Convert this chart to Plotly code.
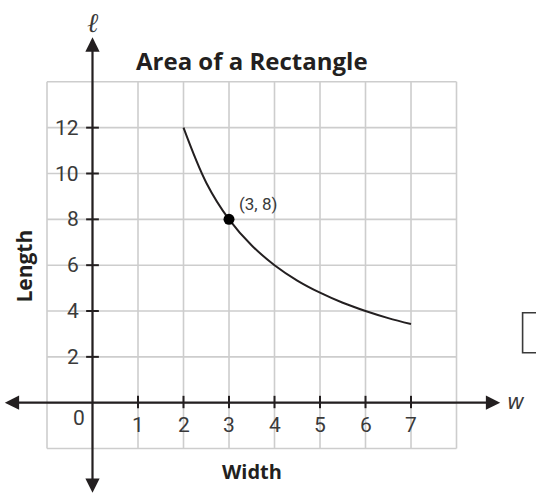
import plotly.graph_objects as go

# values
width_vals = [2, 2.5, 3, 3.5, 4, 4.5, 5, 5.5, 6, 6.5, 7]
length_vals = [12, 9.6, 8, 6.86, 6, 5.33, 4.8, 4.36, 4, 3.69, 3.43]
point_w = [3]
point_l = [8]
x_ticks = [1, 2, 3, 4, 5, 6, 7]
y_ticks = [2, 4, 6, 8, 10, 12]
grid_x = [-1, 0, 1, 2, 3, 4, 5, 6, 7, 8]
grid_y = [-2, 0, 2, 4, 6, 8, 10, 12, 14]

INK = '#231f20'
GRID = '#cdcdcd'
NUM_FONT = dict(family='Roboto', size=21, color='#3a3a3a')

fig = go.Figure()

shapes = []
# grid
for gx in grid_x:
    shapes.append(dict(type='line', xref='x', yref='y', x0=gx, x1=gx,
                       y0=grid_y[0], y1=grid_y[-1], line=dict(color=GRID, width=1.6), layer='below'))
for gy in grid_y:
    shapes.append(dict(type='line', xref='x', yref='y', x0=grid_x[0], x1=grid_x[-1],
                       y0=gy, y1=gy, line=dict(color=GRID, width=1.6), layer='below'))
# tick marks
for t in x_ticks:
    shapes.append(dict(type='line', xref='x', yref='y', x0=t, x1=t, y0=-0.24, y1=0.3,
                       line=dict(color=INK, width=2)))
for t in y_ticks:
    shapes.append(dict(type='line', xref='x', yref='y', x0=-0.14, x1=0.14, y0=t, y1=t,
                       line=dict(color=INK, width=2)))
# the stray box at the right edge
shapes.append(dict(type='rect', xref='paper', yref='paper', x0=0.975, x1=1.08, y0=0.3002, y1=0.3796,
                   line=dict(color='#3a3a3a', width=1.6), fillcolor='white'))

annotations = []
# axes with arrowheads
annotations.append(dict(x=8.96, y=0, ax=-1.96, ay=0, xref='x', yref='y', axref='x', ayref='y',
                        text='', showarrow=True, arrowhead=2, arrowside='end+start',
                        arrowsize=1.3, arrowwidth=2.2, arrowcolor=INK))
annotations.append(dict(x=0, y=15.94, ax=0, ay=-4.0, xref='x', yref='y', axref='x', ayref='y',
                        text='', showarrow=True, arrowhead=2, arrowside='end+start',
                        arrowsize=1.3, arrowwidth=2.2, arrowcolor=INK))
# tick labels
for t in x_ticks:
    annotations.append(dict(x=t, y=-0.98, xref='x', yref='y', text=str(t), showarrow=False,
                            font=NUM_FONT))
annotations.append(dict(x=-0.29, y=-0.68, xref='x', yref='y', text='0', showarrow=False,
                        font=NUM_FONT))
for t in y_ticks:
    annotations.append(dict(x=-0.25, y=t, xref='x', yref='y', text=str(t), showarrow=False,
                            xanchor='right', font=NUM_FONT))
# titles and labels
annotations.append(dict(x=3.505, y=14.95, xref='x', yref='y', text='<b>Area of a Rectangle</b>',
                        showarrow=False, font=dict(family='Open Sans', size=24, color=INK)))
annotations.append(dict(x=3.505, y=-2.98, xref='x', yref='y', text='<b>Width</b>',
                        showarrow=False, font=dict(family='Open Sans', size=20, color=INK)))
annotations.append(dict(x=-1.5, y=5.95, xref='x', yref='y', text='<b>Length</b>', textangle=-90,
                        showarrow=False, font=dict(family='Open Sans', size=21, color=INK)))
annotations.append(dict(x=3.64, y=8.66, xref='x', yref='y', text='(3, 8)',
                        showarrow=False, font=dict(family='Roboto', size=17, color='#3a3a3a')))
annotations.append(dict(x=9.31, y=0.05, xref='x', yref='y', text='<i>w</i>',
                        showarrow=False, font=dict(family='DejaVu Sans', size=21, color='#3a3a3a')))
annotations.append(dict(x=0.0, y=16.6, xref='x', yref='y', text='<i>ℓ</i>',
                        showarrow=False, font=dict(family='DejaVu Serif', size=27, color='#3a3a3a')))

fig.add_trace(go.Scatter(x=width_vals, y=length_vals, mode='lines', line_shape='spline',
                         line=dict(color=INK, width=2), hoverinfo='skip'))
fig.add_trace(go.Scatter(x=point_w, y=point_l, mode='markers',
                         marker=dict(color='black', size=11), hoverinfo='skip'))

fig.update_layout(
    width=536, height=504,
    margin=dict(l=0, r=0, t=0, b=0),
    paper_bgcolor='white', plot_bgcolor='white',
    showlegend=False,
    xaxis=dict(range=[-2.033, 9.747], visible=False, fixedrange=True),
    yaxis=dict(range=[-4.42, 17.57], visible=False, fixedrange=True),
    shapes=shapes,
    annotations=annotations,
)

# page has a default 8px body margin; drop it so the figure fills the window
fig.write_html("out.html", config={'displayModeBar': False},
               post_script="document.body.style.margin='0';")
